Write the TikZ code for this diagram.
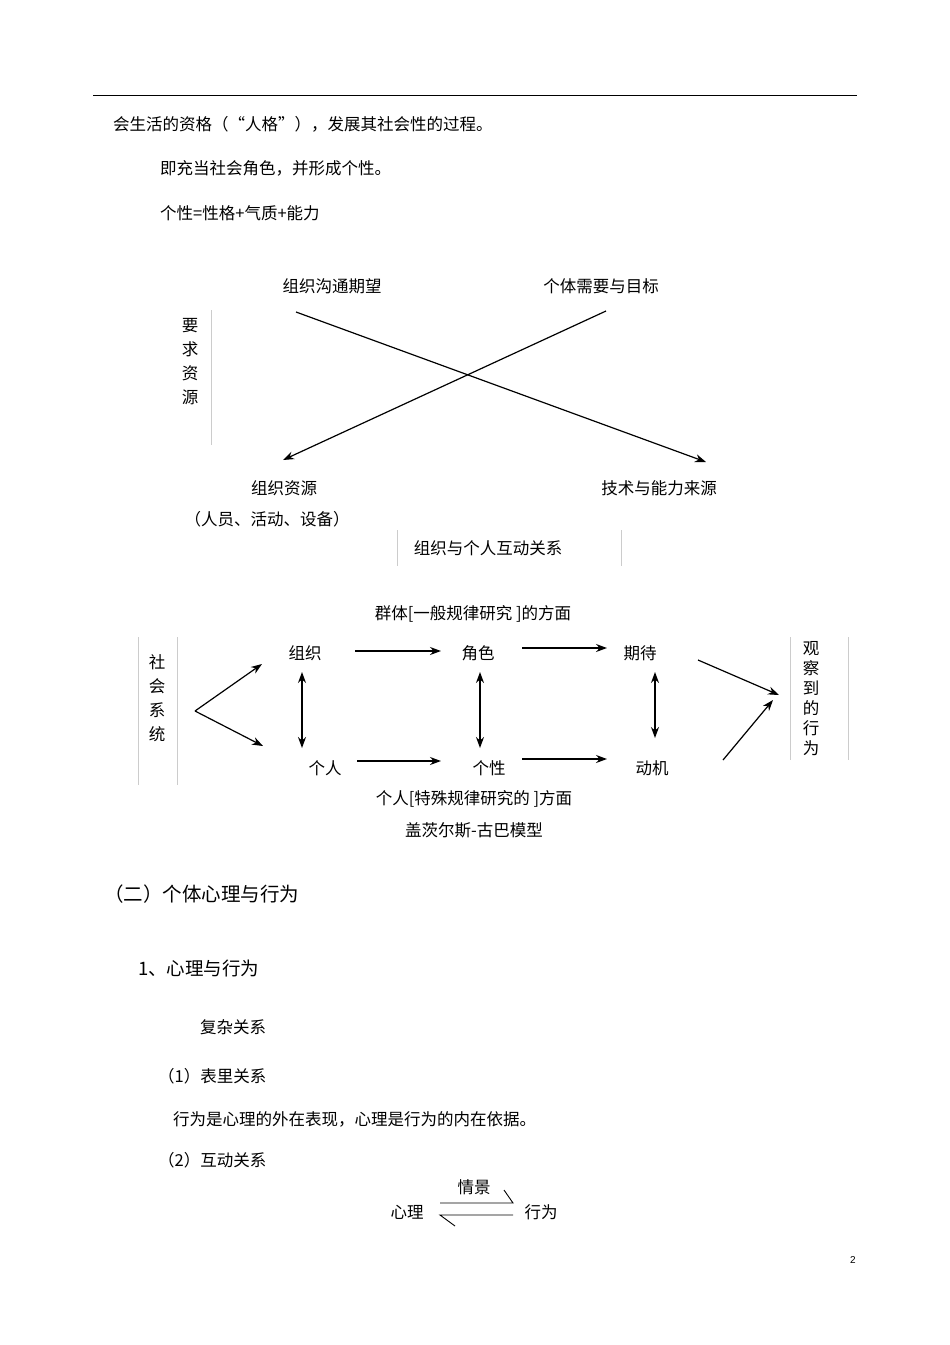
\documentclass[tikz,border=0pt]{standalone}
\usepackage{fontspec}
\setmainfont{Liberation Sans}
\newfontfamily\cjk{Noto Sans CJK SC}
\usetikzlibrary{arrows.meta}
\begin{document}
\begin{tikzpicture}[x=1pt,y=-1pt,
  t/.style={font=\cjk\fontsize{16.5}{19}\selectfont,inner sep=0pt,anchor=west},
  c/.style={font=\cjk\fontsize{16.5}{19}\selectfont,inner sep=0pt},
  v/.style={font=\cjk\fontsize{16.5}{24}\selectfont,inner sep=0pt,align=center},
  ar/.style={-{Stealth[length=11pt,width=8pt]},line width=1.2pt},
  dar/.style={{Stealth[length=11pt,width=8pt]}-{Stealth[length=11pt,width=8pt]},line width=1.2pt},
  thin/.style={draw=black!20,line width=0.6pt}]
\useasboundingbox (0,0) rectangle (950,1345);
\draw[line width=0.8pt] (93,95) -- (857,95);
\node[t] (l1) at (113,124) {会生活的资格（“人格”），发展其社会性的过程。};
\node[t] (l2) at (160,168) {即充当社会角色，并形成个性。};
\node[t] (l3) at (160,213) {个性=性格+气质+能力};
% cross diagram
\node[c] (a1) at (332,286) {组织沟通期望};
\node[c] (a2) at (601,286) {个体需要与目标};
\node[v] (a3) at (190,362) {要\\求\\资\\源};
\draw[thin] (211,310) -- (211,445);
\coordinate (p1) at (296,312);
\coordinate (p2) at (606,311);
\coordinate (q1) at (283,460);
\coordinate (q2) at (706,462);
\draw[ar] (p1) -- (q2);
\draw[ar] (p2) -- (q1);
\node[c] (b1) at (284,488) {组织资源};
\node[c] (b2) at (267,519) {（人员、活动、设备）};
\node[c] (b3) at (659,488) {技术与能力来源};
\node[c] (b4) at (488,548) {组织与个人互动关系};
\draw[thin] (397,530) -- (397,566);
\draw[thin] (621,530) -- (621,566);
% Getzels-Guba
\node[c] (g1) at (473,614) {群体[一般规律研究 ]的方面};
\node[v] (ss) at (157,698) {社\\会\\系\\统};
\draw[thin] (138,637) -- (138,785);
\draw[thin] (177,637) -- (177,785);
\node[v,font=\cjk\fontsize{16.5}{20}\selectfont] (ob) at (811,699) {观\\察\\到\\的\\行\\为};
\draw[thin] (790,637) -- (790,760);
\draw[thin] (848,637) -- (848,760);
\node[c] (zz) at (305,653) {组织};
\node[c] (js) at (478,653) {角色};
\node[c] (qd) at (640,653) {期待};
\node[c] (gr) at (325,768) {个人};
\node[c] (gx) at (489,768) {个性};
\node[c] (dj) at (652,768) {动机};
\coordinate (v0) at (195,711);
\draw[ar] (v0) -- (262,664);
\draw[ar] (v0) -- (263,746);
\draw[ar] (355,651) -- (441,651);
\draw[ar] (522,648) -- (607,648);
\draw[ar] (357,761) -- (441,761);
\draw[ar] (522,759) -- (607,759);
\draw[dar] (302,672) -- (302,748);
\draw[dar] (480,672) -- (480,748);
\draw[dar] (655,672) -- (655,738);
\coordinate (ob0) at (779,695);
\draw[ar] (698,660) -- (ob0);
\draw[ar] (723,760) -- (773,700);
\node[c] (g2) at (474,799) {个人[特殊规律研究的 ]方面};
\node[c] (g3) at (474,830) {盖茨尔斯-古巴模型};
% section
\node[t,font=\cjk\fontsize{19.5}{22}\selectfont] (s1) at (104,894) {（二）个体心理与行为};
\node[t,font=\cjk\fontsize{18.5}{22}\selectfont] (s2) at (138,968) {1、心理与行为};
\node[t] (s3) at (200,1027) {复杂关系};
\node[t] (s4) at (158,1076) {（1）表里关系};
\node[t] (s5) at (173,1119) {行为是心理的外在表现，心理是行为的内在依据。};
\node[t] (s6) at (158,1160) {（2）互动关系};
\node[c] (qj) at (474,1187) {情景};
\node[c] (xl) at (407,1212) {心理};
\node[c] (xw) at (541,1212) {行为};
\draw[line width=0.9pt] (440,1203) -- (513,1203) -- (504,1190);
\draw[line width=0.9pt] (513,1215) -- (440,1215) -- (455,1226);
\node[c,font=\fontsize{10}{12}\selectfont] (pg) at (853,1260) {2};
\end{tikzpicture}
\end{document}
